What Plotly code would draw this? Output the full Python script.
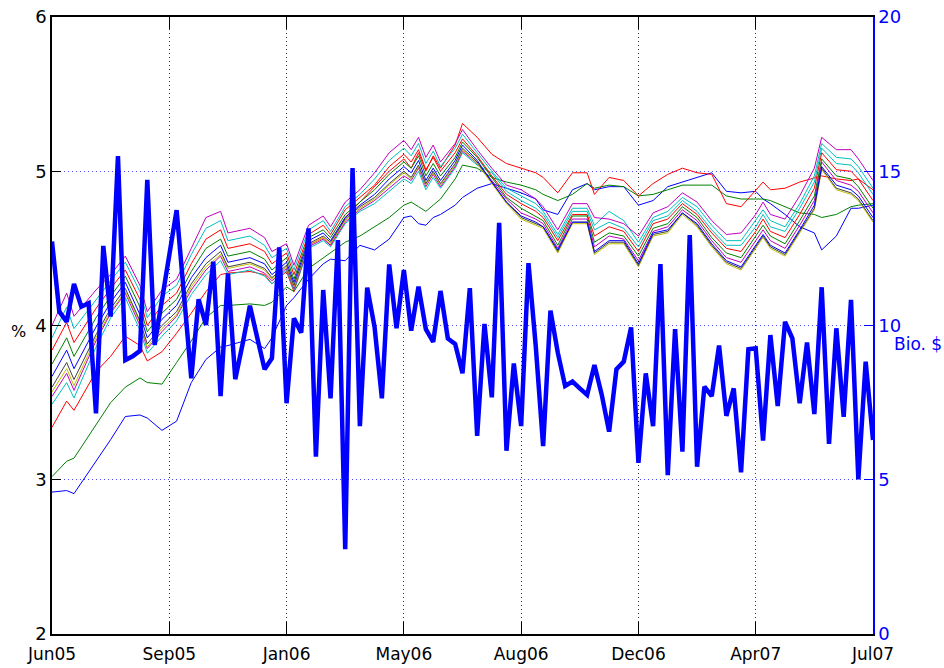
import plotly.graph_objects as go

# weekly observation index (0 = Jun05, 112 = Jul07)
tick_pos = [0, 16, 32, 48, 64, 80, 96, 112]
tick_labels = ["Jun05", "Sep05", "Jan06", "May06", "Aug06", "Dec06", "Apr07", "Jul07"]

# thick line: Bio. $ (right axis), one value per week
bio = [12.72, 10.45, 10.12, 11.35, 10.61, 10.72, 7.15, 12.58, 10.29, 15.49,
       8.88, 9.0, 9.18, 14.72, 9.37, 10.8, 12.3, 13.74, 11.0, 8.29,
       10.85, 10.02, 12.07, 7.71, 11.69, 8.26, 9.4, 10.64, 9.6, 8.58,
       8.94, 12.53, 7.48, 10.23, 9.77, 13.15, 5.75, 11.15, 7.64, 12.77,
       2.75, 15.10, 6.74, 11.23, 9.96, 7.64, 11.98, 9.91, 11.80, 9.83,
       11.26, 9.88, 9.47, 11.12, 9.58, 9.40, 8.45, 11.21, 6.42, 10.05,
       7.67, 13.33, 5.94, 8.77, 6.74, 12.02, 9.31, 6.09, 10.48, 9.12,
       8.04, 8.18, 7.96, 7.75, 8.72, 7.75, 6.56, 8.58, 8.83, 9.94,
       5.55, 8.45, 6.74, 11.99, 5.15, 9.88, 5.91, 12.93, 5.42, 8.02,
       7.71, 9.35, 7.07, 7.96, 5.24, 9.23, 9.26, 6.27, 9.69, 7.39,
       10.12, 9.58, 7.48, 9.45, 7.13, 11.24, 6.16, 9.91, 7.04, 10.83,
       5.01, 8.83, 6.29]
weeks = list(range(len(bio)))

# thin lines: yields (%) read at these week indices
key_weeks = [0, 2, 3, 6, 8, 10, 12, 13, 15, 17, 19, 21, 23, 24, 27, 29, 30, 32, 33, 35,
             37, 38, 40, 42, 44, 46, 48, 49, 50, 51, 52, 53, 55, 56, 58, 60, 62, 64, 66, 67,
             69, 71, 73, 74, 76, 78, 80, 82, 84, 86, 88, 90, 92, 94, 96, 97, 98, 100, 102, 104,
             105, 107, 109, 110, 112]

y01 = [2.92, 2.93, 2.91, 3.12, 3.26, 3.41, 3.42, 3.40, 3.32, 3.38, 3.63, 3.78, 3.86, 3.87, 3.91, 3.85, 3.92, 4.13, 4.18, 4.30,
       4.40, 4.43, 4.42, 4.52, 4.49, 4.56, 4.70, 4.71, 4.66, 4.65, 4.70, 4.72, 4.78, 4.83, 4.89, 4.92, 4.89, 4.86, 4.82, 4.75,
       4.72, 4.88, 4.92, 4.88, 4.90, 4.90, 4.78, 4.81, 4.90, 4.93, 4.96, 4.99, 4.87, 4.86, 4.87, 4.82, 4.79, 4.72, 4.64, 4.60,
       4.49, 4.58, 4.76, 4.76, 4.78]
y02 = [3.02, 3.12, 3.14, 3.36, 3.50, 3.60, 3.66, 3.63, 3.62, 3.76, 3.90, 4.05, 4.13, 4.13, 4.14, 4.13, 4.15, 4.25, 4.22, 4.37,
       4.44, 4.47, 4.54, 4.58, 4.64, 4.70, 4.78, 4.80, 4.77, 4.74, 4.78, 4.82, 4.95, 5.04, 5.02, 4.96, 4.93, 4.91, 4.88, 4.85,
       4.81, 4.85, 4.92, 4.89, 4.91, 4.90, 4.84, 4.85, 4.88, 4.91, 4.91, 4.91, 4.84, 4.82, 4.82, 4.82, 4.81, 4.77, 4.73, 4.72,
       4.70, 4.72, 4.77, 4.78, 4.79]
y03 = [3.34, 3.51, 3.45, 3.70, 3.80, 3.93, 3.87, 3.77, 3.83, 3.95, 4.08, 4.22, 4.33, 4.34, 4.35, 4.33, 4.27, 4.35, 4.22, 4.52,
       4.57, 4.52, 4.70, 4.80, 4.90, 5.00, 5.08, 5.02, 5.12, 5.00, 5.10, 5.02, 5.17, 5.31, 5.22, 5.11, 5.05, 5.02, 4.99, 4.96,
       4.86, 4.99, 4.99, 4.85, 4.96, 4.94, 4.84, 4.92, 4.98, 5.02, 4.99, 4.98, 4.79, 4.77, 4.88, 4.93, 4.88, 4.89, 4.93, 4.96,
       4.97, 4.95, 4.94, 4.95, 4.88]
y04 = [3.49, 3.63, 3.53, 3.86, 4.05, 4.18, 3.97, 3.82, 3.93, 4.03, 4.20, 4.33, 4.42, 4.33, 4.36, 4.32, 4.27, 4.36, 4.23, 4.50,
       4.55, 4.51, 4.66, 4.74, 4.79, 4.87, 4.95, 4.92, 5.00, 4.88, 4.96, 4.89, 5.02, 5.12, 5.04, 4.99, 4.87, 4.81, 4.76, 4.72,
       4.57, 4.74, 4.74, 4.62, 4.67, 4.63, 4.51, 4.68, 4.71, 4.81, 4.74, 4.62, 4.52, 4.52, 4.64, 4.72, 4.64, 4.61, 4.76, 4.93,
       5.15, 5.05, 5.04, 4.99, 4.85]
y05 = [3.54, 3.69, 3.58, 3.90, 4.08, 4.21, 4.00, 3.85, 3.96, 4.06, 4.23, 4.36, 4.45, 4.35, 4.38, 4.34, 4.29, 4.37, 4.24, 4.51,
       4.56, 4.52, 4.67, 4.75, 4.81, 4.89, 4.97, 4.94, 5.02, 4.90, 4.98, 4.90, 5.03, 5.13, 5.05, 4.94, 4.82, 4.73, 4.69, 4.66,
       4.50, 4.69, 4.69, 4.51, 4.58, 4.56, 4.42, 4.61, 4.64, 4.75, 4.68, 4.55, 4.44, 4.41, 4.55, 4.62, 4.55, 4.50, 4.65, 4.81,
       5.06, 4.94, 4.91, 4.87, 4.73]
y06 = [3.57, 3.72, 3.61, 3.92, 4.09, 4.22, 4.02, 3.86, 3.98, 4.07, 4.25, 4.38, 4.46, 4.37, 4.40, 4.36, 4.30, 4.38, 4.25, 4.52,
       4.57, 4.53, 4.68, 4.76, 4.82, 4.91, 4.99, 4.95, 5.03, 4.91, 4.99, 4.91, 5.04, 5.14, 5.05, 4.92, 4.79, 4.69, 4.65, 4.63,
       4.47, 4.66, 4.66, 4.46, 4.53, 4.53, 4.38, 4.58, 4.60, 4.72, 4.64, 4.51, 4.40, 4.36, 4.50, 4.57, 4.50, 4.45, 4.60, 4.75,
       5.01, 4.88, 4.85, 4.81, 4.67]
y07 = [3.60, 3.76, 3.65, 3.94, 4.11, 4.24, 4.03, 3.88, 4.00, 4.09, 4.27, 4.40, 4.48, 4.38, 4.41, 4.37, 4.31, 4.39, 4.26, 4.53,
       4.58, 4.54, 4.69, 4.77, 4.83, 4.92, 5.00, 4.96, 5.04, 4.92, 5.00, 4.92, 5.05, 5.15, 5.06, 4.93, 4.80, 4.70, 4.66, 4.64,
       4.48, 4.67, 4.67, 4.47, 4.54, 4.54, 4.39, 4.59, 4.61, 4.73, 4.65, 4.52, 4.41, 4.37, 4.51, 4.58, 4.51, 4.46, 4.61, 4.76,
       5.02, 4.89, 4.86, 4.82, 4.68]
y08 = [3.67, 3.84, 3.72, 3.99, 4.15, 4.28, 4.07, 3.92, 4.04, 4.13, 4.31, 4.44, 4.52, 4.41, 4.44, 4.40, 4.33, 4.41, 4.28, 4.55,
       4.60, 4.55, 4.70, 4.78, 4.85, 4.95, 5.03, 4.99, 5.07, 4.94, 5.02, 4.94, 5.07, 5.17, 5.07, 4.93, 4.80, 4.71, 4.67, 4.64,
       4.49, 4.67, 4.67, 4.48, 4.55, 4.55, 4.40, 4.60, 4.62, 4.73, 4.66, 4.53, 4.42, 4.38, 4.52, 4.59, 4.52, 4.47, 4.62, 4.78,
       5.03, 4.91, 4.88, 4.84, 4.70]
y09 = [3.75, 3.92, 3.80, 4.05, 4.19, 4.32, 4.12, 3.96, 4.08, 4.17, 4.35, 4.50, 4.56, 4.45, 4.48, 4.43, 4.36, 4.44, 4.30, 4.57,
       4.62, 4.57, 4.72, 4.80, 4.88, 4.98, 5.06, 5.02, 5.10, 4.97, 5.05, 4.97, 5.09, 5.19, 5.09, 4.96, 4.83, 4.76, 4.71, 4.68,
       4.52, 4.71, 4.71, 4.54, 4.60, 4.58, 4.45, 4.63, 4.66, 4.77, 4.70, 4.57, 4.47, 4.44, 4.58, 4.65, 4.58, 4.53, 4.68, 4.84,
       5.08, 4.97, 4.95, 4.90, 4.76]
y10 = [3.84, 4.02, 3.89, 4.11, 4.24, 4.36, 4.17, 4.00, 4.13, 4.21, 4.40, 4.56, 4.62, 4.50, 4.53, 4.48, 4.40, 4.47, 4.33, 4.59,
       4.65, 4.59, 4.75, 4.83, 4.91, 5.03, 5.11, 5.06, 5.14, 5.01, 5.09, 5.00, 5.12, 5.21, 5.10, 4.97, 4.85, 4.79, 4.74, 4.70,
       4.55, 4.72, 4.72, 4.58, 4.64, 4.61, 4.48, 4.66, 4.69, 4.79, 4.72, 4.60, 4.50, 4.48, 4.61, 4.69, 4.61, 4.57, 4.72, 4.89,
       5.12, 5.01, 5.00, 4.95, 4.81]
y11 = [3.92, 4.12, 3.98, 4.17, 4.29, 4.41, 4.22, 4.05, 4.19, 4.26, 4.46, 4.63, 4.68, 4.55, 4.58, 4.52, 4.44, 4.50, 4.36, 4.62,
       4.68, 4.61, 4.77, 4.85, 4.95, 5.07, 5.15, 5.10, 5.18, 5.05, 5.13, 5.03, 5.15, 5.24, 5.12, 5.00, 4.89, 4.84, 4.79, 4.74,
       4.59, 4.76, 4.76, 4.65, 4.74, 4.68, 4.54, 4.70, 4.74, 4.83, 4.77, 4.65, 4.55, 4.55, 4.68, 4.75, 4.68, 4.64, 4.79, 4.97,
       5.18, 5.09, 5.08, 5.03, 4.89]
y12 = [4.00, 4.21, 4.06, 4.23, 4.33, 4.45, 4.26, 4.09, 4.23, 4.30, 4.50, 4.70, 4.74, 4.60, 4.63, 4.57, 4.48, 4.53, 4.39, 4.65,
       4.71, 4.64, 4.80, 4.88, 4.99, 5.12, 5.20, 5.14, 5.22, 5.09, 5.17, 5.06, 5.18, 5.27, 5.14, 5.02, 4.91, 4.88, 4.82, 4.77,
       4.62, 4.79, 4.79, 4.70, 4.69, 4.66, 4.58, 4.73, 4.77, 4.86, 4.80, 4.68, 4.59, 4.60, 4.72, 4.80, 4.72, 4.69, 4.84, 5.02,
       5.22, 5.14, 5.14, 5.08, 4.94]

thin_series = [y01, y02, y03, y04, y05, y06, y07, y08, y09, y10, y11, y12]
matlab_colors = ["#0000ff", "#008000", "#ff0000", "#00bfbf", "#bf00bf", "#bfbf00", "#404040"]

fig = go.Figure()
for i, ys in enumerate(thin_series):
    fig.add_trace(go.Scatter(x=key_weeks, y=ys, mode="lines",
                             line=dict(color=matlab_colors[i % 7], width=1),
                             hoverinfo="skip", showlegend=False))

fig.add_trace(go.Scatter(x=weeks, y=bio, mode="lines", yaxis="y2",
                         line=dict(color="#0000ff", width=4.5),
                         showlegend=False))

FONT = "DejaVu Sans"
fig.update_layout(
    width=944, height=668,
    margin=dict(l=52, r=71, t=17, b=34),
    paper_bgcolor="white", plot_bgcolor="white",
    showlegend=False,
    font=dict(family=FONT, size=16, color="black"),
    xaxis=dict(range=[0, 112], tickmode="array", tickvals=tick_pos, ticktext=tick_labels,
               automargin=False,
               showgrid=True, gridcolor="#333333", griddash="1px,3px", gridwidth=1,
               ticks="inside", ticklen=12, tickcolor="black", ticklabelstandoff=4,
               showline=True, linecolor="black", linewidth=1.5, mirror="ticks",
               zeroline=False, tickfont=dict(family=FONT, size=17, color="black")),
    yaxis=dict(range=[2, 6], tickmode="array", tickvals=[2, 3, 4, 5, 6],
               automargin=False,
               showgrid=False, zeroline=False,
               ticks="inside", ticklen=9, tickcolor="black",
               showline=True, linecolor="black", linewidth=1.5,
               tickfont=dict(family=FONT, size=18, color="black")),
    yaxis2=dict(range=[0, 20], overlaying="y", side="right",
                automargin=False,
                tickmode="array", tickvals=[0, 5, 10, 15, 20],
                showgrid=True, gridcolor="rgba(0,0,255,0.7)", griddash="1px,3px", gridwidth=1,
                zeroline=False, ticks="inside", ticklen=9, tickcolor="#0000ff",
                showline=True, linecolor="#0000ff", linewidth=1.5,
                tickfont=dict(family=FONT, size=18, color="#0000ff")),
    annotations=[
        dict(text="%", xref="paper", yref="paper", x=-0.041, y=0.491,
             xanchor="center", yanchor="middle",
             showarrow=False, font=dict(family=FONT, size=16, color="black")),
        dict(text="Bio. $", xref="paper", yref="paper", x=1.055, y=0.470,
             xanchor="center", yanchor="middle",
             showarrow=False, font=dict(family=FONT, size=17, color="#0000ff")),
    ],
)

fig.write_html("out.html")
